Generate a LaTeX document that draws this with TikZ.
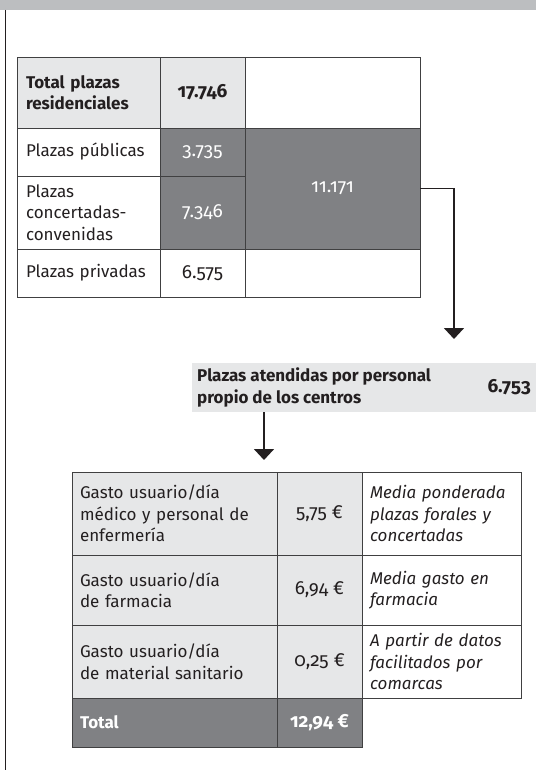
\documentclass[tikz,border=0pt]{standalone}
\usepackage{fontspec}
\setmainfont{Fira Sans}[Numbers=OldStyle]
\usetikzlibrary{arrows.meta}
\definecolor{lightg}{HTML}{E6E7E8}
\definecolor{darkg}{HTML}{808184}
\definecolor{bord}{HTML}{404041}
\definecolor{bandg}{HTML}{BCBEC0}
\definecolor{ink}{HTML}{231F20}
\tikzset{
  basefont/.style={font=\fontsize{17}{21.5}\selectfont},
  boldfont/.style={font=\fontsize{17}{21.5}\selectfont\bfseries},
  itfont/.style={font=\fontsize{17}{21.5}\selectfont\itshape},
  numfont/.style={font=\fontsize{19}{22}\selectfont},
  numbold/.style={font=\fontsize{19}{22}\selectfont\bfseries},
  cell/.style={draw=bord,line width=0.9pt,anchor=north west,inner xsep=9pt,inner ysep=0pt,outer sep=0pt,text=ink,basefont},
  sz/.style 2 args={minimum width=#1,minimum height=#2},
  darkcell/.style={fill=darkg,text=white},
  lightcell/.style={fill=lightg},
  conn/.style={draw=ink,line width=1.8pt,-{Triangle[width=20pt,length=11pt]}},
}
\begin{document}
\begin{tikzpicture}[x=1pt,y=-1pt]
\useasboundingbox (0,0) rectangle (536,770);
% top band and left rule
\fill[bandg] (0,0) rectangle (536,10);
\draw[ink,line width=1.2pt] (5.5,10) -- (5.5,770);

% top table
\node[cell,lightcell,boldfont,sz={143pt}{71pt},text width=125pt,align=left] (c11) at (17,57) {Total plazas\\residenciales};
\node[cell,lightcell,numbold,sz={85pt}{71pt},align=center] (c12) at (160,57) {17.746};
\node[cell,sz={175pt}{71pt}] (c13) at (245,57) {};
\node[cell,sz={143pt}{48pt},text width=125pt,align=left] (c21) at (17,128) {Plazas públicas};
\node[cell,darkcell,numfont,sz={85pt}{48pt},align=center] (c22) at (160,128) {3.735};
\node[cell,darkcell,numfont,sz={175pt}{121pt},align=center] (c23) at (245,128) {11.171};
\node[cell,sz={143pt}{73pt},text width=125pt,align=left] (c31) at (17,176) {Plazas\\concertadas-\\convenidas};
\node[cell,darkcell,numfont,sz={85pt}{73pt},align=center] (c32) at (160,176) {7.346};
\node[cell,sz={143pt}{48pt},text width=125pt,align=left] (c41) at (17,249) {Plazas privadas};
\node[cell,numfont,sz={85pt}{48pt},align=center] (c42) at (160,249) {6.575};
\node[cell,sz={175pt}{48pt}] (c43) at (245,249) {};

% connector 1
\coordinate (a1) at (454,339);
\draw[conn] (c23.east) -| (a1);

% band
\node[fill=lightg,anchor=north west,minimum width=344pt,minimum height=49pt,inner sep=0pt,outer sep=0pt] (band) at (192,363) {};
\node[boldfont,text=ink,anchor=west,align=left,inner sep=0pt] (bandtxt) at (197,387.5) {Plazas atendidas por personal\\propio de los centros};
\node[numbold,text=ink,anchor=east,inner sep=0pt] (bandval) at (531,387.5) {6.753};

% connector 2
\coordinate (a2) at (264,460);
\draw[conn] (a2 |- band.south) -- (a2);

% bottom table
\node[cell,lightcell,sz={205pt}{83pt},text width=189pt,inner xsep=8pt,align=left] (g11) at (72,472) {Gasto usuario/día\\médico y personal de\\enfermería};
\node[cell,lightcell,numfont,sz={85pt}{83pt},align=center] (g12) at (277,472) {5,75 €};
\node[cell,itfont,sz={159pt}{83pt},text width=143pt,inner xsep=8pt,align=left] (g13) at (362,472) {Media ponderada\\plazas forales y\\concertadas};
\node[cell,lightcell,sz={205pt}{70pt},text width=189pt,inner xsep=8pt,align=left] (g21) at (72,555) {Gasto usuario/día\\de farmacia};
\node[cell,lightcell,numfont,sz={85pt}{70pt},align=center] (g22) at (277,555) {6,94 €};
\node[cell,itfont,sz={159pt}{70pt},text width=143pt,inner xsep=8pt,align=left] (g23) at (362,555) {Media gasto en\\farmacia};
\node[cell,lightcell,sz={205pt}{73pt},text width=189pt,inner xsep=8pt,align=left] (g31) at (72,625) {Gasto usuario/día\\de material sanitario};
\node[cell,lightcell,numfont,sz={85pt}{73pt},align=center] (g32) at (277,625) {0,25 €};
\node[cell,itfont,sz={159pt}{73pt},text width=143pt,inner xsep=8pt,align=left] (g33) at (362,625) {A partir de datos\\facilitados por\\comarcas};
\node[cell,darkcell,boldfont,sz={205pt}{49pt},text width=189pt,inner xsep=8pt,align=left] (g41) at (72,698) {Total};
\node[cell,darkcell,numbold,sz={85pt}{49pt},align=center] (g42) at (277,698) {12,94 €};
\end{tikzpicture}
\end{document}
